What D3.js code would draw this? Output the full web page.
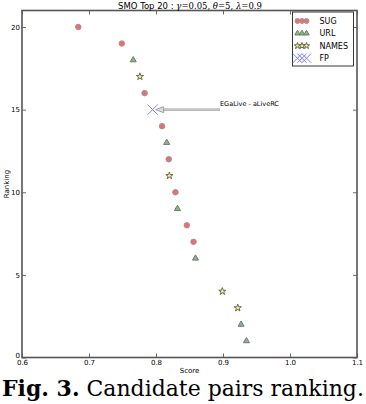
<!DOCTYPE html>
<html>
<head>
<meta charset="utf-8">
<script src="https://cdn.jsdelivr.net/npm/d3@7"></script>
<style>
  body { margin: 0; background: #fff; }
  svg { display: block; }
  text { font-family: "DejaVu Sans", sans-serif; fill: #000; }
</style>
</head>
<body>
<svg id="chart" width="366" height="404"></svg>
<script>
'use strict';
// ranks and scores per group
const SUG_RANK = [20, 19, 16, 14, 12, 10, 8, 7];
const SUG_SCORE = [0.684, 0.749, 0.783, 0.809, 0.819, 0.829, 0.846, 0.856];
const URL_RANK = [18, 13, 9, 6, 2, 1];
const URL_SCORE = [0.766, 0.816, 0.832, 0.859, 0.927, 0.935];
const NAMES_RANK = [17, 11, 4, 3];
const NAMES_SCORE = [0.776, 0.820, 0.899, 0.922];
const FP_RANK = [15];
const FP_SCORE = [0.795];
const X_TICKS = [0.6, 0.7, 0.8, 0.9, 1.0, 1.1];
const Y_TICKS = [0, 5, 10, 15, 20];
const FP_NOTE = 'EGaLive - aLiveRC';

const svg = d3.select('#chart');
const W = 366;
const m = { left: 22, right: 9, top: 10.5, bottom: 46.5 };
const pw = W - m.left - m.right;
const ph = 404 - m.top - m.bottom;

const x = d3.scaleLinear().domain([0.6, 1.1]).range([0, pw]);
const y = d3.scaleLinear().domain([0, 21]).range([ph, 0]);

const g = svg.append('g').attr('transform', `translate(${m.left},${m.top})`);

// ticks pointing inward on all four sides
const tk = 4;
g.append('g').attr('transform', `translate(0,${ph})`)
  .call(d3.axisBottom(x).tickValues(X_TICKS).tickSize(-tk).tickPadding(2.5)
    .tickFormat(d3.format('.1f')))
  .call(a => a.select('.domain').remove());
g.append('g')
  .call(d3.axisTop(x).tickValues(X_TICKS).tickSize(-tk).tickFormat(''))
  .call(a => a.select('.domain').remove());
g.append('g')
  .call(d3.axisLeft(y).tickValues(Y_TICKS).tickSize(-tk).tickPadding(2))
  .call(a => a.select('.domain').remove())
  .call(a => a.selectAll('.tick text').filter(d => d === 0).attr('y', -2));
g.append('g').attr('transform', `translate(${pw},0)`)
  .call(d3.axisRight(y).tickValues(Y_TICKS).tickSize(-tk).tickFormat(''))
  .call(a => a.select('.domain').remove());
g.selectAll('.tick line').attr('stroke', '#444').attr('stroke-width', 0.8);
g.selectAll('.tick text').style('font-size', '7px');

g.append('rect')
  .attr('width', pw).attr('height', ph)
  .attr('fill', 'none').attr('stroke', '#555').attr('stroke-width', 1.6);

// annotation arrow for the false positive
const fx = x(FP_SCORE[0]), fy = y(FP_RANK[0]);
g.append('line')
  .attr('x1', fx + 10).attr('y1', fy).attr('x2', 198).attr('y2', fy)
  .attr('stroke', '#999').attr('stroke-width', 2.2);
g.append('line')
  .attr('x1', fx + 10).attr('y1', fy).attr('x2', 198).attr('y2', fy)
  .attr('stroke', '#ddd').attr('stroke-width', 0.8);
g.append('path')
  .attr('d', `M${fx + 3},${fy} L${fx + 11},${fy - 3} L${fx + 11},${fy + 3} Z`)
  .attr('fill', '#ddd').attr('stroke', '#999').attr('stroke-width', 0.9);
g.append('text')
  .attr('x', 198).attr('y', fy - 4)
  .style('font-size', '6.5px')
  .text(FP_NOTE);

const sym = {
  SUG: { type: d3.symbolCircle, size: 24, fill: '#f46a6a', stroke: '#999' },
  URL: { type: d3.symbolTriangle, size: 16, fill: '#7cc07c', stroke: '#777' },
  NAMES: { type: d3.symbolStar, size: 16, fill: '#ffff55', stroke: '#666' },
  FP: { type: d3.symbolTimes, size: 70, fill: 'none', stroke: '#6f6fff' }
};

function drawMarker(sel, k, sc) {
  const s = sym[k];
  sel.append('path')
    .attr('d', d3.symbol().type(s.type).size(s.size * sc * sc))
    .attr('fill', s.fill)
    .attr('stroke', s.stroke)
    .attr('stroke-width', k === 'FP' ? 0.9 : 1);
}

function series(ranks, scores, k) {
  ranks.forEach((r, i) => {
    const p = g.append('g')
      .attr('transform', `translate(${x(scores[i])},${y(r)})`);
    drawMarker(p, k, 1);
  });
}
series(SUG_RANK, SUG_SCORE, 'SUG');
series(URL_RANK, URL_SCORE, 'URL');
series(NAMES_RANK, NAMES_SCORE, 'NAMES');
series(FP_RANK, FP_SCORE, 'FP');

// legend
const lg = svg.append('g').attr('transform', 'translate(292.5,12)');
lg.append('rect').attr('width', 61).attr('height', 54)
  .attr('fill', '#fff').attr('stroke', '#222').attr('stroke-width', 0.9);
['SUG', 'URL', 'NAMES', 'FP'].forEach((k, i) => {
  const ry = 9 + i * 12.4;
  [5, 9.5, 14].forEach(dx => {
    const p = lg.append('g').attr('transform', `translate(${dx},${ry})`);
    drawMarker(p, k, 0.9);
  });
  lg.append('text').attr('x', 27).attr('y', ry + 3)
    .style('font-size', '8px').text(k);
});

// title
const title = svg.append('text')
  .attr('x', 190).attr('y', 8.5)
  .attr('text-anchor', 'middle')
  .style('font-size', '8.5px');
title.append('tspan').text('SMO Top 20 : ');
[['γ', '=0.05, '], ['θ', '=5, '], ['λ', '=0.9']].forEach(([s, v]) => {
  title.append('tspan').style('font-family', '"DejaVu Serif", serif')
    .style('font-style', 'italic').text(s);
  title.append('tspan').style('font-family', '"DejaVu Serif", serif').text(v);
});

// axis labels
svg.append('text')
  .attr('x', m.left + pw / 2).attr('y', 373)
  .attr('text-anchor', 'middle').style('font-size', '7px').text('Score');
svg.append('text')
  .attr('transform', `translate(9,${m.top + ph / 2}) rotate(-90)`)
  .attr('text-anchor', 'middle').style('font-size', '7px').text('Ranking');

// caption, sized to the page width
const cap = svg.append('text')
  .attr('x', 2).attr('y', 396)
  .style('font-family', '"DejaVu Serif", serif')
  .style('font-size', '20px');
cap.append('tspan').style('font-weight', 'bold').text('Fig. 3.');
cap.append('tspan').text(' Candidate pairs ranking.');
const cw = cap.node().getComputedTextLength();
cap.style('font-size', (20 * 362 / cw) + 'px');
</script>
</body>
</html>
